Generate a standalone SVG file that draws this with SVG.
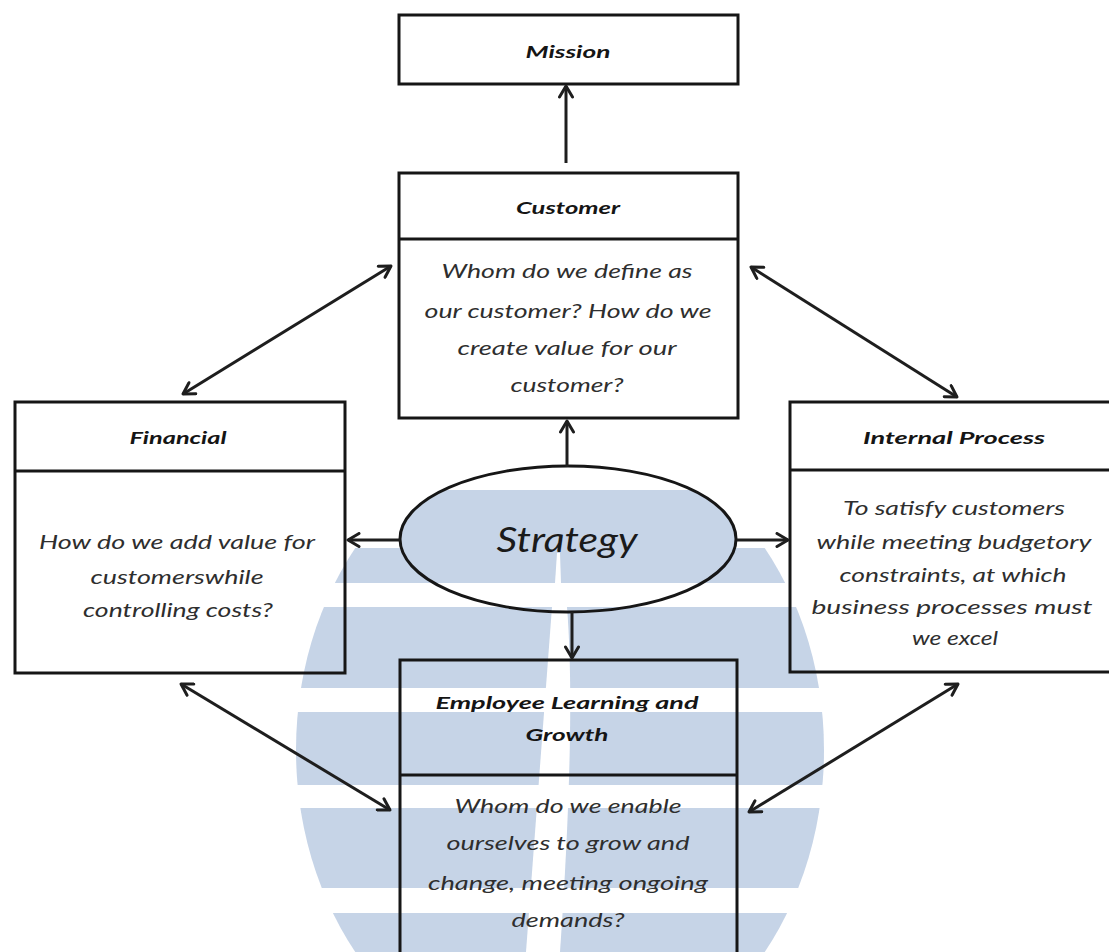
<svg xmlns="http://www.w3.org/2000/svg" width="1109" height="952" viewBox="0 0 1109 952">
<style>
.box{fill:none;stroke:#161616;stroke-width:3}
.div{stroke:#161616;stroke-width:3}
.ttl{font-family:Lato,"Open Sans","Liberation Sans",sans-serif;font-style:italic;font-weight:bold;font-size:17px;fill:#151515;text-anchor:middle}
.bd{font-family:Lato,"Open Sans","Liberation Sans",sans-serif;font-style:italic;font-size:19.5px;fill:#2e2e2e;text-anchor:middle}
.st{font-family:Lato,"Open Sans","Liberation Sans",sans-serif;font-style:italic;font-size:35px;fill:#1a1a1a;text-anchor:middle}
.cn{stroke:#1e1e1e;stroke-width:3;fill:none}
.wm{fill:#c6d4e7}
</style>
<defs>
<marker id="arr" viewBox="0 0 16 16" refX="14" refY="8" markerWidth="16" markerHeight="16" markerUnits="userSpaceOnUse" orient="auto-start-reverse">
<path d="M3,1.5 L14,8 L3,14.5" fill="none" stroke="#1e1e1e" stroke-width="3" stroke-linecap="round" stroke-linejoin="round"/>
</marker>
<clipPath id="wmclip"><ellipse cx="560" cy="750" rx="264" ry="320"/></clipPath>
<clipPath id="stclip"><ellipse cx="568" cy="539" rx="167" ry="72"/></clipPath>
</defs>
<rect width="1109" height="952" fill="#ffffff"/>
<g id="watermark">
<rect class="wm" x="400" y="490" width="340" height="60" clip-path="url(#stclip)"/>
<g clip-path="url(#wmclip)">
<rect class="wm" x="280" y="548" width="560" height="35"/>
<rect class="wm" x="280" y="607" width="560" height="81"/>
<rect class="wm" x="280" y="712" width="560" height="73"/>
<rect class="wm" x="280" y="808" width="560" height="80"/>
<rect class="wm" x="280" y="913" width="560" height="45"/>
</g>
<path d="M557,553 L560,553 L561,583 L555,583 Z" fill="#ffffff"/>
<path d="M552,607 L567,607 Q576,720 560,952 L526,952 Z" fill="#ffffff"/>
</g>
<g id="mission">
<rect class="box" x="399" y="15" width="339" height="69"/>
<text class="ttl" x="568" y="58" textLength="85" lengthAdjust="spacingAndGlyphs">Mission</text>
</g>
<g id="customer">
<rect class="box" x="399" y="173" width="339" height="245"/>
<line class="div" x1="399" y1="239" x2="738" y2="239"/>
<text class="ttl" x="568" y="214" textLength="104" lengthAdjust="spacingAndGlyphs">Customer</text>
<text class="bd" x="567" y="278" textLength="251" lengthAdjust="spacingAndGlyphs">Whom do we define as</text>
<text class="bd" x="568" y="318" textLength="287" lengthAdjust="spacingAndGlyphs">our customer? How do we</text>
<text class="bd" x="567" y="355" textLength="219" lengthAdjust="spacingAndGlyphs">create value for our</text>
<text class="bd" x="567" y="392" textLength="113" lengthAdjust="spacingAndGlyphs">customer?</text>
</g>
<g id="financial">
<rect class="box" x="15" y="402" width="330" height="271"/>
<line class="div" x1="15" y1="471" x2="345" y2="471"/>
<text class="ttl" x="178" y="444" textLength="97" lengthAdjust="spacingAndGlyphs">Financial</text>
<text class="bd" x="177" y="549" textLength="276" lengthAdjust="spacingAndGlyphs">How do we add value for</text>
<text class="bd" x="177" y="584" textLength="173" lengthAdjust="spacingAndGlyphs">customerswhile</text>
<text class="bd" x="178" y="617" textLength="190" lengthAdjust="spacingAndGlyphs">controlling costs?</text>
</g>
<g id="internal-process">
<rect class="box" x="790" y="402" width="335" height="270"/>
<line class="div" x1="790" y1="470" x2="1125" y2="470"/>
<text class="ttl" x="954" y="444" textLength="182" lengthAdjust="spacingAndGlyphs">Internal Process</text>
<text class="bd" x="954" y="515" textLength="222" lengthAdjust="spacingAndGlyphs">To satisfy customers</text>
<text class="bd" x="954" y="549" textLength="275" lengthAdjust="spacingAndGlyphs">while meeting budgetory</text>
<text class="bd" x="953" y="582" textLength="227" lengthAdjust="spacingAndGlyphs">constraints, at which</text>
<text class="bd" x="952" y="614" textLength="281" lengthAdjust="spacingAndGlyphs">business processes must</text>
<text class="bd" x="955" y="645" textLength="86" lengthAdjust="spacingAndGlyphs">we excel</text>
</g>
<g id="strategy">
<ellipse cx="568" cy="539" rx="168" ry="73" fill="none" stroke="#161616" stroke-width="3"/>
<text class="st" x="567" y="552" textLength="141" lengthAdjust="spacingAndGlyphs">Strategy</text>
</g>
<g id="employee-learning-growth">
<rect class="box" x="400" y="660" width="337" height="330"/>
<line class="div" x1="400" y1="775" x2="737" y2="775"/>
<text class="ttl" x="567" y="709" textLength="263" lengthAdjust="spacingAndGlyphs">Employee Learning and</text>
<text class="ttl" x="567" y="741" textLength="83" lengthAdjust="spacingAndGlyphs">Growth</text>
<text class="bd" x="568" y="813" textLength="227" lengthAdjust="spacingAndGlyphs">Whom do we enable</text>
<text class="bd" x="568" y="850" textLength="243" lengthAdjust="spacingAndGlyphs">ourselves to grow and</text>
<text class="bd" x="568" y="890" textLength="280" lengthAdjust="spacingAndGlyphs">change, meeting ongoing</text>
<text class="bd" x="568" y="927" textLength="113" lengthAdjust="spacingAndGlyphs">demands?</text>
</g>
<g id="connectors">
<line class="cn" x1="566" y1="163" x2="566" y2="86" marker-end="url(#arr)"/>
<line class="cn" x1="567" y1="467" x2="567" y2="421" marker-end="url(#arr)"/>
<line class="cn" x1="400" y1="540" x2="348" y2="540" marker-end="url(#arr)"/>
<line class="cn" x1="737" y1="540" x2="788" y2="540" marker-end="url(#arr)"/>
<line class="cn" x1="572" y1="612" x2="572" y2="658" marker-end="url(#arr)"/>
<line class="cn" x1="183" y1="394" x2="391" y2="266" marker-start="url(#arr)" marker-end="url(#arr)"/>
<line class="cn" x1="751" y1="267" x2="957" y2="397" marker-start="url(#arr)" marker-end="url(#arr)"/>
<line class="cn" x1="181" y1="684" x2="390" y2="810" marker-start="url(#arr)" marker-end="url(#arr)"/>
<line class="cn" x1="958" y1="684" x2="749" y2="812" marker-start="url(#arr)" marker-end="url(#arr)"/>
</g>
</svg>
